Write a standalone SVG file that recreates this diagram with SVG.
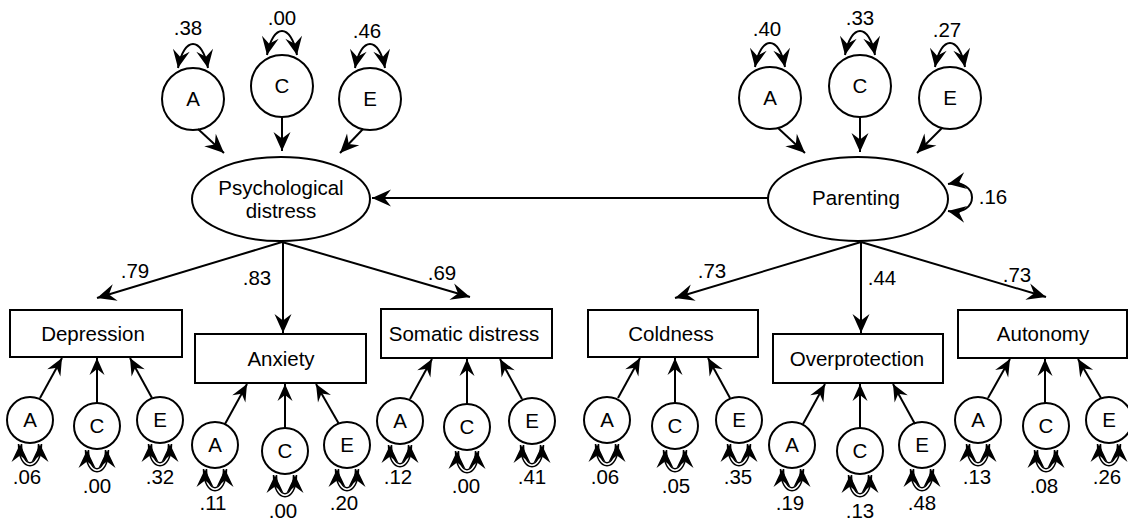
<svg xmlns="http://www.w3.org/2000/svg" width="1128" height="520" viewBox="0 0 1128 520">
<style>
.s{fill:#fff;stroke:#000;stroke-width:2}
.t{font-family:"Liberation Sans",Arial,Helvetica,sans-serif;font-size:20.5px;fill:#000;text-anchor:middle}
.c{fill:none;stroke:#000;stroke-width:2}
.b{marker-end:url(#big)}
.m{marker-end:url(#sm)}
.lp{fill:none;stroke:#000;stroke-width:2;marker-start:url(#lmr);marker-end:url(#lm)}
.lo{fill:none;stroke:#000;stroke-width:4.5}
.li{fill:none;stroke:#fff;stroke-width:1.6}
.ln{fill:none;stroke:none;marker-start:url(#lmr);marker-end:url(#lm)}
</style>
<defs>
<marker id="big" markerUnits="userSpaceOnUse" viewBox="-20 -10 21 20" refX="0" refY="0" markerWidth="21" markerHeight="20" orient="auto"><path d="M0,0 L-19,-8.5 L-12.5,0 L-19,8.5 Z" fill="#000"/></marker>
<marker id="sm" markerUnits="userSpaceOnUse" viewBox="-19 -9 20 18" refX="0" refY="0" markerWidth="20" markerHeight="18" orient="auto"><path d="M0,0 L-17,-7.5 L-11,0 L-17,7.5 Z" fill="#000"/></marker>
<marker id="lm" markerUnits="userSpaceOnUse" viewBox="-20 -10 21 20" refX="0" refY="0" markerWidth="21" markerHeight="20" orient="auto"><path d="M0,0 L-18,-8.5 L-11.5,0 L-18,8.5 Z" fill="#000"/></marker>
<marker id="lmr" markerUnits="userSpaceOnUse" viewBox="-20 -10 21 20" refX="0" refY="0" markerWidth="21" markerHeight="20" orient="auto-start-reverse"><path d="M0,0 L-18,-8.5 L-11.5,0 L-18,8.5 Z" fill="#000"/></marker>
</defs>

<g id="psych-A"><circle class="s" cx="193" cy="99" r="31"/><text class="t" x="193" y="106">A</text><text class="t" x="188" y="35">.38</text></g>
<g id="psych-C"><circle class="s" cx="282" cy="86" r="31"/><text class="t" x="282" y="93">C</text><text class="t" x="282" y="25">.00</text></g>
<g id="psych-E"><circle class="s" cx="370" cy="99" r="31"/><text class="t" x="370" y="106">E</text><text class="t" x="367" y="38">.46</text></g>
<g id="par-A"><circle class="s" cx="770" cy="98" r="31"/><text class="t" x="770" y="105">A</text><text class="t" x="767" y="36">.40</text></g>
<g id="par-C"><circle class="s" cx="860" cy="86" r="31"/><text class="t" x="860" y="93">C</text><text class="t" x="860" y="25">.33</text></g>
<g id="par-E"><circle class="s" cx="950" cy="98" r="31"/><text class="t" x="950" y="105">E</text><text class="t" x="947" y="37">.27</text></g>

<g id="psychological-distress"><ellipse class="s" cx="281" cy="199" rx="89" ry="42"/><text class="t" x="281" y="195">Psychological</text><text class="t" x="281" y="218">distress</text></g>
<g id="parenting"><ellipse class="s" cx="858" cy="199" rx="90" ry="42"/><text class="t" x="856" y="205">Parenting</text></g>

<g id="depression"><rect class="s" x="10" y="310" width="172" height="47"/><text class="t" x="93" y="341">Depression</text></g>
<g id="anxiety"><rect class="s" x="195" y="334" width="171" height="49"/><text class="t" x="281" y="366">Anxiety</text></g>
<g id="somatic"><rect class="s" x="381" y="309" width="171" height="49"/><text class="t" x="464" y="341">Somatic distress</text></g>
<g id="coldness"><rect class="s" x="588" y="310" width="170" height="47"/><text class="t" x="671" y="341">Coldness</text></g>
<g id="overprotection"><rect class="s" x="773" y="334" width="170" height="49"/><text class="t" x="857" y="366">Overprotection</text></g>
<g id="autonomy"><rect class="s" x="958" y="310" width="169" height="48"/><text class="t" x="1043" y="341">Autonomy</text></g>

<g id="dep-A"><circle class="s" cx="30" cy="420" r="23"/><text class="t" x="30" y="427">A</text><text class="t" x="27" y="484">.06</text></g>
<g id="dep-C"><circle class="s" cx="97" cy="426" r="23"/><text class="t" x="97" y="433">C</text><text class="t" x="97" y="493">.00</text></g>
<g id="dep-E"><circle class="s" cx="160" cy="420" r="23"/><text class="t" x="160" y="427">E</text><text class="t" x="160" y="484">.32</text></g>

<g id="anx-A"><circle class="s" cx="215" cy="445" r="23"/><text class="t" x="215" y="452">A</text><text class="t" x="213" y="510">.11</text></g>
<g id="anx-C"><circle class="s" cx="285" cy="451" r="23"/><text class="t" x="285" y="458">C</text><text class="t" x="283" y="518">.00</text></g>
<g id="anx-E"><circle class="s" cx="347" cy="445" r="23"/><text class="t" x="347" y="452">E</text><text class="t" x="344" y="510">.20</text></g>

<g id="som-A"><circle class="s" cx="400" cy="421" r="23"/><text class="t" x="400" y="428">A</text><text class="t" x="398" y="484">.12</text></g>
<g id="som-C"><circle class="s" cx="467" cy="427" r="23"/><text class="t" x="467" y="434">C</text><text class="t" x="466" y="493">.00</text></g>
<g id="som-E"><circle class="s" cx="532" cy="421" r="23"/><text class="t" x="532" y="428">E</text><text class="t" x="532" y="484">.41</text></g>

<g id="col-A"><circle class="s" cx="607" cy="420" r="23"/><text class="t" x="607" y="427">A</text><text class="t" x="605" y="484">.06</text></g>
<g id="col-C"><circle class="s" cx="675" cy="426" r="23"/><text class="t" x="675" y="433">C</text><text class="t" x="676" y="493">.05</text></g>
<g id="col-E"><circle class="s" cx="739" cy="420" r="23"/><text class="t" x="739" y="427">E</text><text class="t" x="738" y="484">.35</text></g>

<g id="ovp-A"><circle class="s" cx="792" cy="445" r="23"/><text class="t" x="792" y="452">A</text><text class="t" x="790" y="510">.19</text></g>
<g id="ovp-C"><circle class="s" cx="860" cy="451" r="23"/><text class="t" x="860" y="458">C</text><text class="t" x="860" y="518">.13</text></g>
<g id="ovp-E"><circle class="s" cx="922" cy="445" r="23"/><text class="t" x="922" y="452">E</text><text class="t" x="922" y="510">.48</text></g>

<g id="aut-A"><circle class="s" cx="978" cy="420" r="23"/><text class="t" x="978" y="427">A</text><text class="t" x="977" y="484">.13</text></g>
<g id="aut-C"><circle class="s" cx="1046" cy="426" r="23"/><text class="t" x="1046" y="433">C</text><text class="t" x="1044" y="493">.08</text></g>
<g id="aut-E"><circle class="s" cx="1109" cy="420" r="23"/><text class="t" x="1109" y="427">E</text><text class="t" x="1107" y="484">.26</text></g>

<g id="connectors">
  <path class="c b" d="M198,129 L224,153"/>
  <path class="c b" d="M282,117 L282,151"/>
  <path class="c b" d="M363,129 L340,153"/>
  <path class="c b" d="M778,128 L805,153"/>
  <path class="c b" d="M860,117 L860,152"/>
  <path class="c b" d="M942,128 L917,153"/>
  <path class="c b" d="M768,198 L372,198"/>
  <path class="c b" d="M282,242 L97,298"/>
  <path class="c b" d="M283,242 L283,333"/>
  <path class="c b" d="M282,242 L470,297"/>
  <path class="c b" d="M861,242 L675,298"/>
  <path class="c b" d="M861,242 L861,333"/>
  <path class="c b" d="M861,242 L1046,297"/>
  <path class="lp" d="M178,68 C184,36 202,36 208,68"/>
  <path class="lp" d="M267,55 C273,23 291,23 297,55"/>
  <path class="lp" d="M355,68 C361,36 379,36 385,68"/>
  <path class="lp" d="M755,67 C761,35 779,35 785,67"/>
  <path class="lp" d="M845,55 C851,23 869,23 875,55"/>
  <path class="lp" d="M935,67 C941,35 959,35 965,67"/>
  <path class="lp" d="M948,184 C980,178 980,217 948,211"/>
  <path class="c m" d="M40,398 L62,358"/>
  <path class="c m" d="M97,403 L97,358"/>
  <path class="c m" d="M152,398 L130,358"/>
  <path class="c m" d="M225,424 L247,384"/>
  <path class="c m" d="M285,428 L285,384"/>
  <path class="c m" d="M339,424 L316,384"/>
  <path class="c m" d="M410,399 L432,359"/>
  <path class="c m" d="M467,404 L467,359"/>
  <path class="c m" d="M522,399 L500,359"/>
  <path class="c m" d="M618,398 L640,358"/>
  <path class="c m" d="M675,403 L675,358"/>
  <path class="c m" d="M730,398 L708,358"/>
  <path class="c m" d="M803,424 L825,384"/>
  <path class="c m" d="M860,428 L860,384"/>
  <path class="c m" d="M915,424 L893,384"/>
  <path class="c m" d="M988,398 L1010,359"/>
  <path class="c m" d="M1045,403 L1045,359"/>
  <path class="c m" d="M1101,398 L1078,359"/>
  <g id="bottom-loops">
    <path class="lo" d="M20,444 C20,471 40,471 40,444"/><path class="li" d="M20,444 C20,471 40,471 40,444"/><path class="ln" d="M20,444 C20,471 40,471 40,444"/>
    <path class="lo" d="M87,450 C87,477 107,477 107,450"/><path class="li" d="M87,450 C87,477 107,477 107,450"/><path class="ln" d="M87,450 C87,477 107,477 107,450"/>
    <path class="lo" d="M150,444 C150,471 170,471 170,444"/><path class="li" d="M150,444 C150,471 170,471 170,444"/><path class="ln" d="M150,444 C150,471 170,471 170,444"/>
    <path class="lo" d="M205,469 C205,496 225,496 225,469"/><path class="li" d="M205,469 C205,496 225,496 225,469"/><path class="ln" d="M205,469 C205,496 225,496 225,469"/>
    <path class="lo" d="M275,475 C275,502 295,502 295,475"/><path class="li" d="M275,475 C275,502 295,502 295,475"/><path class="ln" d="M275,475 C275,502 295,502 295,475"/>
    <path class="lo" d="M337,469 C337,496 357,496 357,469"/><path class="li" d="M337,469 C337,496 357,496 357,469"/><path class="ln" d="M337,469 C337,496 357,496 357,469"/>
    <path class="lo" d="M390,445 C390,472 410,472 410,445"/><path class="li" d="M390,445 C390,472 410,472 410,445"/><path class="ln" d="M390,445 C390,472 410,472 410,445"/>
    <path class="lo" d="M457,451 C457,478 477,478 477,451"/><path class="li" d="M457,451 C457,478 477,478 477,451"/><path class="ln" d="M457,451 C457,478 477,478 477,451"/>
    <path class="lo" d="M522,445 C522,472 542,472 542,445"/><path class="li" d="M522,445 C522,472 542,472 542,445"/><path class="ln" d="M522,445 C522,472 542,472 542,445"/>
    <path class="lo" d="M597,444 C597,471 617,471 617,444"/><path class="li" d="M597,444 C597,471 617,471 617,444"/><path class="ln" d="M597,444 C597,471 617,471 617,444"/>
    <path class="lo" d="M665,450 C665,477 685,477 685,450"/><path class="li" d="M665,450 C665,477 685,477 685,450"/><path class="ln" d="M665,450 C665,477 685,477 685,450"/>
    <path class="lo" d="M729,444 C729,471 749,471 749,444"/><path class="li" d="M729,444 C729,471 749,471 749,444"/><path class="ln" d="M729,444 C729,471 749,471 749,444"/>
    <path class="lo" d="M782,469 C782,496 802,496 802,469"/><path class="li" d="M782,469 C782,496 802,496 802,469"/><path class="ln" d="M782,469 C782,496 802,496 802,469"/>
    <path class="lo" d="M850,475 C850,502 870,502 870,475"/><path class="li" d="M850,475 C850,502 870,502 870,475"/><path class="ln" d="M850,475 C850,502 870,502 870,475"/>
    <path class="lo" d="M912,469 C912,496 932,496 932,469"/><path class="li" d="M912,469 C912,496 932,496 932,469"/><path class="ln" d="M912,469 C912,496 932,496 932,469"/>
    <path class="lo" d="M968,444 C968,471 988,471 988,444"/><path class="li" d="M968,444 C968,471 988,471 988,444"/><path class="ln" d="M968,444 C968,471 988,471 988,444"/>
    <path class="lo" d="M1036,450 C1036,477 1056,477 1056,450"/><path class="li" d="M1036,450 C1036,477 1056,477 1056,450"/><path class="ln" d="M1036,450 C1036,477 1056,477 1056,450"/>
    <path class="lo" d="M1099,444 C1099,471 1119,471 1119,444"/><path class="li" d="M1099,444 C1099,471 1119,471 1119,444"/><path class="ln" d="M1099,444 C1099,471 1119,471 1119,444"/>
  </g>
  <text class="t" x="135" y="278">.79</text>
  <text class="t" x="257" y="285">.83</text>
  <text class="t" x="442" y="280">.69</text>
  <text class="t" x="712" y="278">.73</text>
  <text class="t" x="882" y="285">.44</text>
  <text class="t" x="1017" y="282">.73</text>
  <text class="t" x="993" y="204">.16</text>
</g>
</svg>
